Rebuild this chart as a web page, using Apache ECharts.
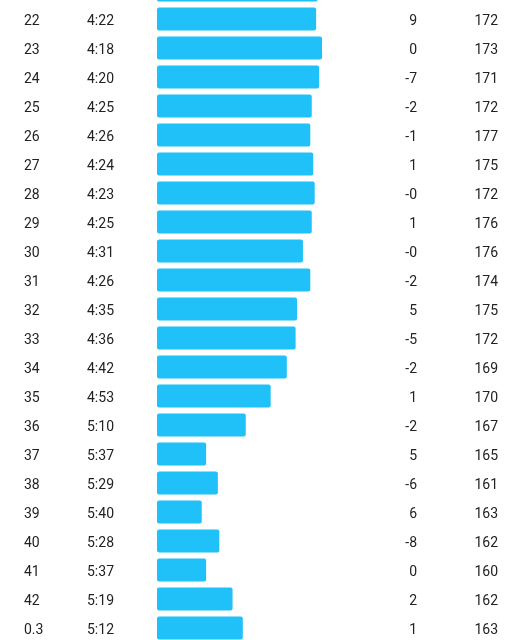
<!DOCTYPE html>
<html>
<head>
<meta charset="utf-8">
<script src="https://cdn.jsdelivr.net/npm/echarts@6/dist/echarts.min.js"></script>
<style>
html,body{margin:0;padding:0;background:#fff;}
#c{width:522px;height:640px;}
</style>
</head>
<body>
<div id="c"></div>
<script>
const kmLabels = ['21','22','23','24','25','26','27','28','29','30','31','32','33','34','35','36','37','38','39','40','41','42','0.3'];
const paces = ['4:21','4:22','4:18','4:20','4:25','4:26','4:24','4:23','4:25','4:31','4:26','4:35','4:36','4:42','4:53','5:10','5:37','5:29','5:40','5:28','5:37','5:19','5:12'];
const elevation = ['-1','9','0','-7','-2','-1','1','-0','1','-0','-2','5','-5','-2','1','-2','5','-6','6','-8','0','2','1'];
const heartRate = ['171','172','173','171','172','177','175','172','176','176','174','175','172','169','170','167','165','161','163','162','160','162','163'];

const slowestRef = 370.5; // pace (s) at which the bar length would be zero
function toSec(p){ const a = p.split(':'); return (+a[0])*60 + (+a[1]); }
const barValues = paces.map(p => slowestRef - toSec(p));

const txt = {
  color:'#222', fontSize:14, fontFamily:'Roboto', interval:0,
  formatter: v => '{t|' + v + '}',
  rich:{t:{color:'#222', fontSize:14, fontFamily:'Roboto', padding:[4,0,0,0]}}
};
const hiddenAxis = {axisLine:{show:false}, axisTick:{show:false}, splitLine:{show:false}};

const chart = echarts.init(document.getElementById('c'), null, {renderer:'canvas'});
chart.setOption({
  animation:false,
  backgroundColor:'#fff',
  grid:{left:157, top:-24.5, width:234.7, height:667, containLabel:false, outerBoundsMode:'none'},
  xAxis:{type:'value', min:0, max:160, show:false},
  yAxis:[
    Object.assign({type:'category', inverse:true, data:kmLabels, position:'left',
      axisLabel:Object.assign({align:'left', margin:133}, txt)}, hiddenAxis),
    Object.assign({type:'category', inverse:true, data:paces, position:'left',
      axisLabel:Object.assign({align:'left', margin:70}, txt)}, hiddenAxis),
    Object.assign({type:'category', inverse:true, data:elevation, position:'right',
      axisLabel:Object.assign({align:'right', margin:25.3}, txt)}, hiddenAxis),
    Object.assign({type:'category', inverse:true, data:heartRate, position:'right',
      axisLabel:Object.assign({align:'right', margin:106.3}, txt)}, hiddenAxis)
  ],
  series:[{
    type:'bar',
    yAxisIndex:0,
    data:barValues,
    barWidth:23,
    itemStyle:{color:'#20C0F8', borderRadius:2},
    silent:true
  }]
});
</script>
</body>
</html>
